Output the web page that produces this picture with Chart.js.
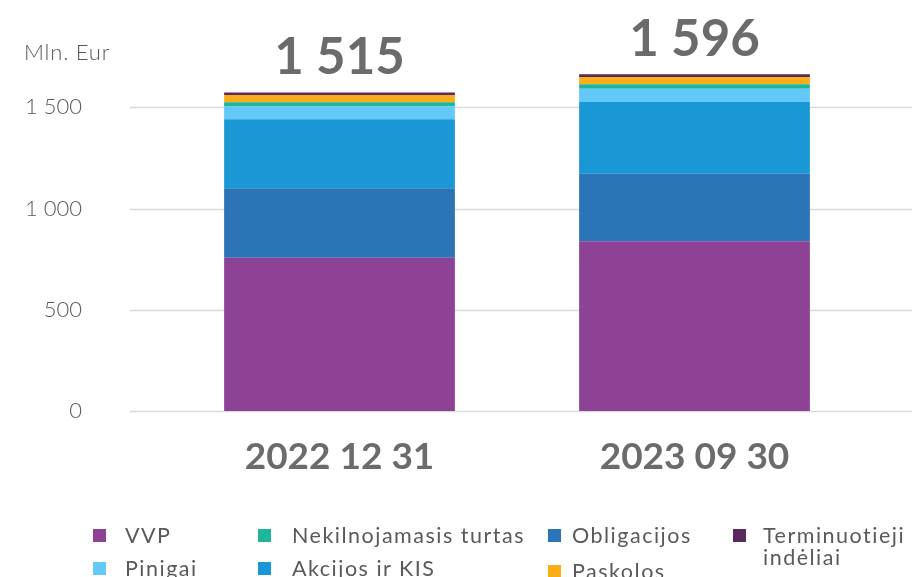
<!DOCTYPE html>
<html>
<head>
<meta charset="utf-8">
<style>
  body { margin: 0; background: #fff; font-family: Lato, "Open Sans", sans-serif; }
  #wrap { position: relative; width: 912px; height: 577px; overflow: hidden; }
  #unit { position: absolute; left: 24px; top: 38px; font-size: 22px; font-weight: 300; letter-spacing: 0.8px; color: #595959; }
  .lg-item { position: absolute; font-size: 21.5px; letter-spacing: 1.5px; color: #595959; line-height: 22px; font-weight: 400; }
  .lg-box { position: absolute; width: 13px; height: 13px; }
</style>
</head>
<body>
<div id="wrap">
  <canvas id="chart" width="912" height="577"></canvas>
  <div id="unit">Mln. Eur</div>
  <div id="legend"></div>
</div>
<script src="https://cdn.jsdelivr.net/npm/chart.js@4.4.0/dist/chart.umd.min.js"></script>
<script>
const dates = ['2022 12 31', '2023 09 30'];
const totals = ['1 515', '1 596'];
const vvp = [757, 838];
const obligacijos = [343, 333];
const akcijos = [341, 356];
const pinigai = [63, 64];
const nekilnojamasis = [21, 23];
const paskolos = [35, 36];
const terminuotieji = [13, 13];
const yTicks = [0, 500, 1000, 1500];

const textGrey = '#595959';

// stack order, bottom to top
const datasets = [
  { label: 'VVP', data: vvp, backgroundColor: '#8E4295' },
  { label: 'Obligacijos', data: obligacijos, backgroundColor: '#2A74B7' },
  { label: 'Akcijos ir KIS', data: akcijos, backgroundColor: '#1A98D5' },
  { label: 'Pinigai', data: pinigai, backgroundColor: '#62C9F9' },
  { label: 'Nekilnojamasis turtas', data: nekilnojamasis, backgroundColor: '#1FB59A' },
  { label: 'Paskolos', data: paskolos, backgroundColor: '#FBAC19' },
  { label: 'Terminuotieji indėliai', data: terminuotieji, backgroundColor: '#5A2A5E' }
];

function fmt(v) {
  return String(v).replace(/\B(?=(\d{3})+(?!\d))/g, ' ');
}

// grid lines run wider than the bar area, so draw them off the y scale
const wideGrid = {
  id: 'wideGrid',
  beforeDatasetsDraw(chart) {
    const ctx = chart.ctx;
    const y = chart.scales.y;
    ctx.save();
    ctx.strokeStyle = '#D9D9D9';
    ctx.lineWidth = 1.5;
    y.ticks.forEach(t => {
      const py = Math.round(y.getPixelForValue(t.value)) + 0.5;
      ctx.beginPath();
      ctx.moveTo(130, py);
      ctx.lineTo(912, py);
      ctx.stroke();
    });
    ctx.restore();
  }
};

const totalLabels = {
  id: 'totalLabels',
  afterDatasetsDraw(chart) {
    const ctx = chart.ctx;
    const meta = chart.getDatasetMeta(chart.data.datasets.length - 1);
    ctx.save();
    ctx.fillStyle = '#6B6B6B';
    ctx.font = 'bold 51px Lato, sans-serif';
    ctx.textAlign = 'center';
    ctx.textBaseline = 'alphabetic';
    meta.data.forEach((bar, i) => {
      ctx.fillText(totals[i], bar.x, bar.y - 18);
    });
    ctx.restore();
  }
};

const chart = new Chart(document.getElementById('chart'), {
  type: 'bar',
  data: { labels: dates, datasets: datasets },
  options: {
    responsive: false,
    animation: false,
    devicePixelRatio: 1,
    layout: { padding: { top: 6, right: 40, bottom: 86, left: 0 } },
    datasets: { bar: { categoryPercentage: 0.65, barPercentage: 1, borderWidth: 0 } },
    plugins: { legend: { display: false }, tooltip: { enabled: false } },
    scales: {
      x: {
        stacked: true,
        grid: { display: false },
        border: { display: false },
        ticks: {
          color: '#6B6B6B',
          font: { family: 'Lato', size: 37, weight: 'bold' },
          padding: 16
        },
        afterFit(scale) { scale.height = 80; }
      },
      y: {
        stacked: true,
        min: 0,
        max: 2000,
        grid: { display: false, drawTicks: false },
        border: { display: false },
        afterBuildTicks(scale) { scale.ticks = yTicks.map(v => ({ value: v })); },
        ticks: {
          color: textGrey,
          font: { family: 'Lato', size: 22, weight: '300' },
          padding: 80,
          callback: v => fmt(v)
        },
        afterFit(scale) {
          scale.width = 162;
          scale.paddingTop = 0;
          scale.paddingBottom = 0;
        }
      }
    }
  },
  plugins: [wideGrid, totalLabels]
});

// legend laid out like the original: 4 columns, 2 rows [box x, box y, text x]
const legendSlots = {
  'VVP': [93, 529, 125],
  'Nekilnojamasis turtas': [258, 529, 292],
  'Obligacijos': [548, 529, 572],
  'Terminuotieji indėliai': [733, 529, 763],
  'Pinigai': [93, 562, 125],
  'Akcijos ir KIS': [258, 562, 292],
  'Paskolos': [548, 565, 572]
};
const legendEl = document.getElementById('legend');
chart.data.datasets.forEach(ds => {
  const [x, y, tx] = legendSlots[ds.label];
  const box = document.createElement('div');
  box.className = 'lg-box';
  box.style.left = x + 'px';
  box.style.top = y + 'px';
  box.style.background = ds.backgroundColor;
  legendEl.appendChild(box);
  const txt = document.createElement('div');
  txt.className = 'lg-item';
  txt.style.left = tx + 'px';
  txt.style.top = (y - 5) + 'px';
  const wrap = ds.label === 'Terminuotieji indėliai';
  txt.style.width = wrap ? '149px' : 'auto';
  txt.style.whiteSpace = wrap ? 'normal' : 'nowrap';
  txt.textContent = ds.label;
  legendEl.appendChild(txt);
});
</script>
</body>
</html>
